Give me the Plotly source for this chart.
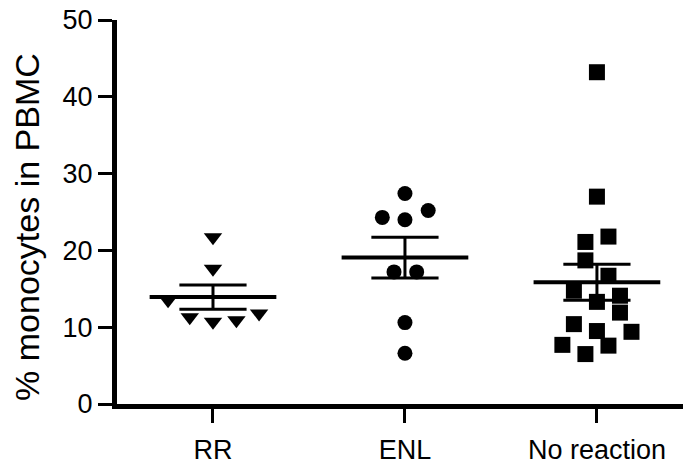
import numpy as np
import plotly.graph_objects as go

categories = ["RR", "ENL", "No reaction"]

# values (% monocytes in PBMC)
rr_values = [21.7, 17.6, 13.5, 11.3, 10.7, 10.9, 11.8]
enl_values = [27.4, 24.3, 24.0, 25.2, 17.2, 17.2, 10.6, 6.6]
nr_values = [43.2, 27.0, 21.8, 21.1, 18.7, 16.7, 14.75, 14.1, 13.3, 11.9,
              10.4, 9.5, 9.4, 7.7, 7.6, 6.5]

# horizontal scatter offsets (category units)
rr_offsets = [0, 0, -0.234, -0.121, 0, 0.122, 0.24]
enl_offsets = [0, -0.118, 0, 0.121, -0.057, 0.061, 0, 0]
nr_offsets = [0, 0, 0.06, -0.06, -0.06, 0.06, -0.12, 0.12, 0, 0.12,
              -0.12, 0, 0.18, -0.18, 0.06, -0.06]

y_ticks = [0, 10, 20, 30, 40, 50]
y_title = "% monocytes in PBMC"

groups = [
    (rr_values, rr_offsets, "triangle-down", 16),
    (enl_values, enl_offsets, "circle", 15),
    (nr_values, nr_offsets, "square", 16),
]

FONT = "Arial, Liberation Sans, sans-serif"
fig = go.Figure()

MEAN_HALF = 0.33
SEM_HALF = 0.175

for i, (vals, offs, sym, size) in enumerate(groups):
    v = np.array(vals, dtype=float)
    mean = v.mean()
    sem = v.std(ddof=1) / np.sqrt(len(v))
    # mean line
    fig.add_trace(go.Scatter(
        x=[i - MEAN_HALF, i + MEAN_HALF], y=[mean, mean], mode="lines",
        line=dict(color="black", width=4), hoverinfo="skip", showlegend=False))
    # SEM whiskers
    fig.add_trace(go.Scatter(
        x=[i - SEM_HALF, i + SEM_HALF, None, i - SEM_HALF, i + SEM_HALF, None, i, i],
        y=[mean + sem, mean + sem, None, mean - sem, mean - sem, None, mean - sem, mean + sem],
        mode="lines", line=dict(color="black", width=3),
        hoverinfo="skip", showlegend=False))
    # points
    fig.add_trace(go.Scatter(
        x=[i + o for o in offs], y=vals, mode="markers",
        marker=dict(symbol=sym, size=size, color="black", line=dict(width=0)),
        name=categories[i], showlegend=False))

# the page body has an 8 px default margin, so the margins absorb it
fig.update_layout(
    width=691, height=473,
    margin=dict(l=109, r=8, t=12, b=77),
    plot_bgcolor="white", paper_bgcolor="white",
    font=dict(family=FONT, color="black", size=27),
    showlegend=False,
    annotations=[dict(
        text=y_title, textangle=-90, showarrow=False,
        xref="paper", yref="paper", x=-0.158, y=0.462,
        xanchor="center", yanchor="middle",
        font=dict(size=34, family=FONT, color="black"),
    )],
)
fig.update_xaxes(
    range=[-0.5, 2.49], tickmode="array", tickvals=[0, 1, 2], ticktext=categories,
    showline=True, linecolor="black", linewidth=5,
    ticks="outside", ticklen=14, tickwidth=3, tickcolor="black",
    showgrid=False, zeroline=False, ticklabelstandoff=4, automargin=False,
    ticklabeloverflow="allow",
    tickfont=dict(size=27, family=FONT, color="black"),
)
fig.update_yaxes(
    range=[0, 50], tickmode="array", tickvals=y_ticks,
    ticktext=[str(t) for t in y_ticks],
    showline=True, linecolor="black", linewidth=5,
    ticks="outside", ticklen=14, tickwidth=3, tickcolor="black",
    showgrid=False, zeroline=False, automargin=False,
    ticklabeloverflow="allow",
    tickfont=dict(size=27, family=FONT, color="black"),
)

fig.write_html("out.html")
